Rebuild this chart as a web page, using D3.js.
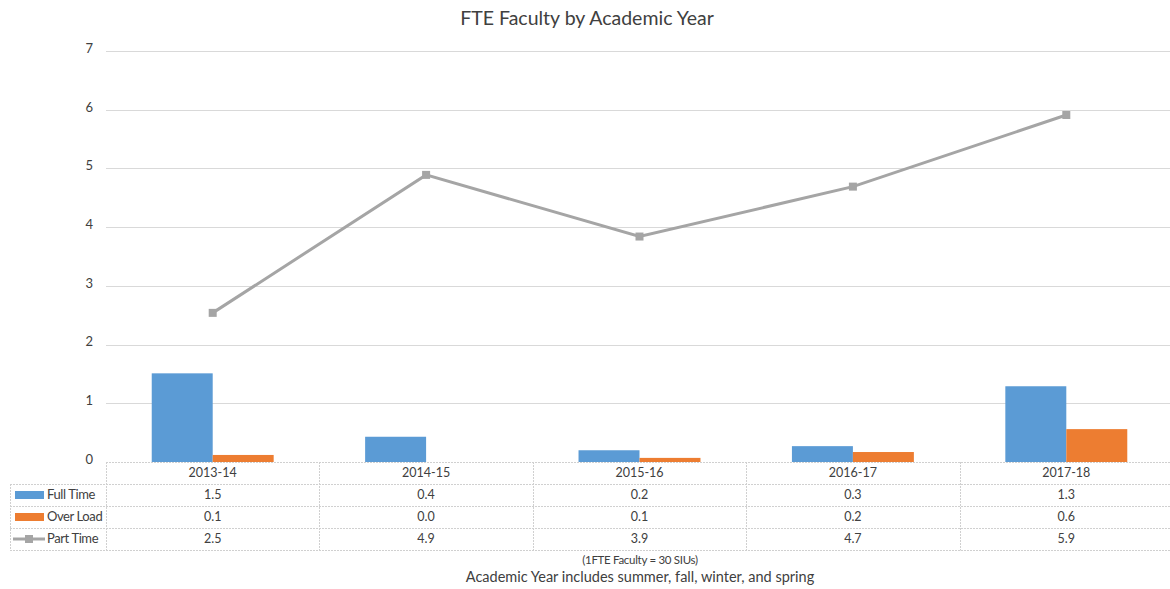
<!DOCTYPE html>
<html><head><meta charset="utf-8">
<script src="https://cdn.jsdelivr.net/npm/d3@7"></script>
<style>body{margin:0;background:#fff;} svg{display:block;font-family:Lato,"Open Sans",sans-serif;}</style>
</head><body>
<svg id="c" width="1170" height="589"></svg>
<script>
const categories = ["2013-14","2014-15","2015-16","2016-17","2017-18"];
const fullTime = [1.51,0.43,0.20,0.27,1.29];
const overLoad = [0.12,0.0,0.07,0.17,0.56];
const partTime = [2.54,4.89,3.84,4.69,5.91];
const fullTimeLabels = ["1.5","0.4","0.2","0.3","1.3"];
const overLoadLabels = ["0.1","0.0","0.1","0.2","0.6"];
const partTimeLabels = ["2.5","4.9","3.9","4.7","5.9"];
const yTicks = [0,1,2,3,4,5,6,7];
const seriesNames = ["Full Time","Over Load","Part Time"];

(function(){
const colors = {ft:"#5B9BD5", ol:"#ED7D31", pt:"#A5A5A5"};
const svg = d3.select("#c");
const pLeft = 106, pRight = 1173, pTop = 51, pBottom = 462;
const x = d3.scaleBand().domain(categories).range([pLeft,pRight]);
const y = d3.scaleLinear().domain([0,7]).range([pBottom,pTop]);
const sub = d3.scaleBand().domain(["ft","ol"]).range([0,x.bandwidth()]).paddingInner(0).paddingOuter(0.75);

svg.append("text").attr("x",587).attr("y",25).attr("text-anchor","middle")
  .attr("font-size",19.5).attr("fill","#404040").text("FTE Faculty by Academic Year");

svg.append("g").selectAll("line").data(yTicks.filter(d=>d>0)).join("line")
  .attr("x1",pLeft).attr("x2",pRight).attr("y1",d=>Math.round(y(d))+0.5).attr("y2",d=>Math.round(y(d))+0.5)
  .attr("stroke","#d9d9d9").attr("stroke-width",1);

const yAxis = d3.axisLeft(y).tickValues(yTicks).tickSize(0).tickPadding(0).tickFormat(d3.format("d"));
const ga = svg.append("g").attr("transform",`translate(${93},0)`).call(yAxis);
ga.select(".domain").remove();
ga.selectAll("text").attr("font-size",13).attr("fill","#404040").attr("font-family","Lato,'Open Sans',sans-serif").attr("dy","0.1em");

const g = svg.append("g");
g.selectAll("rect.ft").data(categories).join("rect").attr("class","ft")
  .attr("x",d=>x(d)+sub("ft")).attr("width",sub.bandwidth())
  .attr("y",(d,i)=>y(fullTime[i])).attr("height",(d,i)=>y(0)-y(fullTime[i])).attr("fill",colors.ft);
g.selectAll("rect.ol").data(categories).join("rect").attr("class","ol")
  .attr("x",d=>x(d)+sub("ol")).attr("width",sub.bandwidth())
  .attr("y",(d,i)=>y(overLoad[i])).attr("height",(d,i)=>y(0)-y(overLoad[i])).attr("fill",colors.ol);

const cx = d=>x(d)+x.bandwidth()/2;
const line = d3.line().x((d,i)=>cx(categories[i])).y(d=>y(d));
g.append("path").datum(partTime).attr("d",line).attr("fill","none").attr("stroke",colors.pt).attr("stroke-width",3);
g.selectAll("rect.pt").data(partTime).join("rect").attr("class","pt")
  .attr("x",(d,i)=>cx(categories[i])-4).attr("y",d=>y(d)-4).attr("width",8).attr("height",8).attr("fill",colors.pt);

const rowH = 22, hdrTop = 462, rowsTop = 484;
const tbl = svg.append("g").attr("stroke","#d0d0d0").attr("stroke-dasharray","2,1").attr("stroke-width",1);
[[pLeft,462.5],[10,484.5],[10,506.5],[10,528.5],[10,550.5]].forEach(([x1,yy])=>{
  tbl.append("line").attr("x1",x1).attr("x2",pRight).attr("y1",yy).attr("y2",yy);
});
const vx = categories.map(c=>x(c)).concat([pRight]);
vx.forEach(v=>tbl.append("line").attr("x1",Math.round(v)+0.5).attr("x2",Math.round(v)+0.5).attr("y1",462).attr("y2",550.5));
tbl.append("line").attr("x1",10.5).attr("x2",10.5).attr("y1",484).attr("y2",550.5);

const tt = svg.append("g").attr("font-size",12.5).attr("fill","#404040").attr("text-anchor","middle");
tt.selectAll("text.h").data(categories).join("text").attr("class","h")
  .attr("x",d=>cx(d)).attr("y",hdrTop+15).text(d=>d);
[fullTimeLabels,overLoadLabels,partTimeLabels].forEach((arr,r)=>{
  tt.selectAll("text.r"+r).data(arr).join("text").attr("class","r"+r)
    .attr("x",(d,i)=>cx(categories[i])).attr("y",rowsTop+r*rowH+15).text(d=>d);
});

const lg = svg.append("g");
lg.append("rect").attr("x",15).attr("y",491).attr("width",29).attr("height",8).attr("fill",colors.ft);
lg.append("rect").attr("x",15).attr("y",513).attr("width",29).attr("height",8).attr("fill",colors.ol);
lg.append("line").attr("x1",13).attr("x2",45).attr("y1",539).attr("y2",539).attr("stroke",colors.pt).attr("stroke-width",3);
lg.append("rect").attr("x",25).attr("y",535).attr("width",8).attr("height",8).attr("fill",colors.pt);
lg.selectAll("text").data(seriesNames).join("text")
  .attr("x",47).attr("y",(d,i)=>rowsTop+i*rowH+15).attr("font-size",13).attr("fill","#404040")
  .attr("letter-spacing","-0.4").text(d=>d);

svg.append("text").attr("x",640).attr("y",564).attr("text-anchor","middle").attr("font-size",11.5)
  .attr("fill","#404040").attr("letter-spacing","-0.3").text("(1FTE Faculty = 30 SIUs)");
svg.append("text").attr("x",640).attr("y",582).attr("text-anchor","middle").attr("font-size",14.5)
  .attr("fill","#404040").text("Academic Year includes summer, fall, winter, and spring");
})();
</script>
</body></html>
